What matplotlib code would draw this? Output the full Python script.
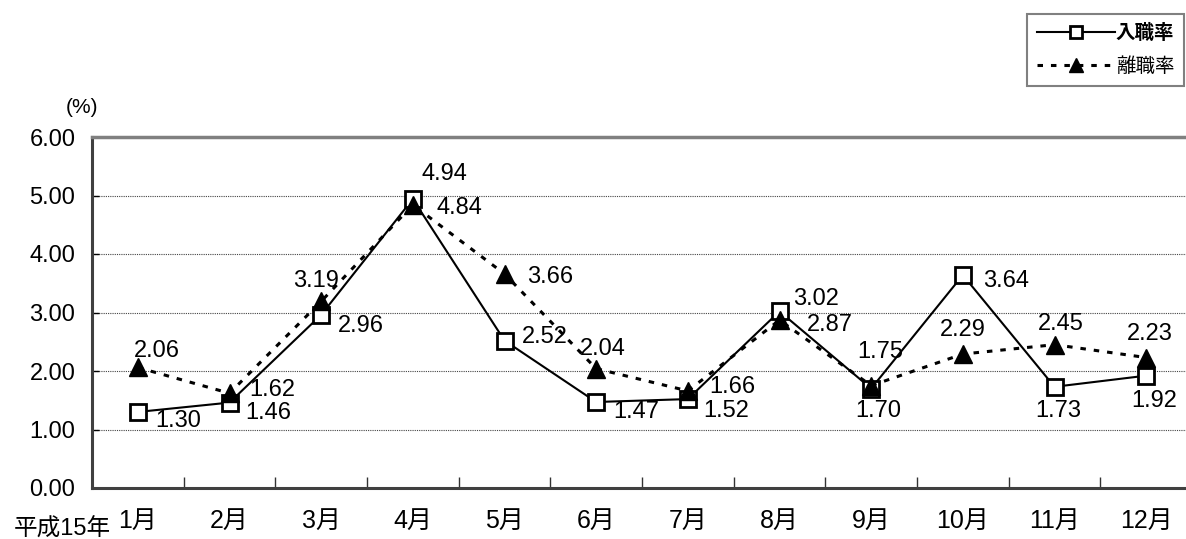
import numpy as np
import matplotlib
matplotlib.use('Agg')
import matplotlib.pyplot as plt

plt.rcParams['font.family'] = ['Liberation Sans', 'Noto Sans CJK JP', 'DejaVu Sans']

months = ['1月', '2月', '3月', '4月', '5月', '6月', '7月', '8月', '9月', '10月', '11月', '12月']
hire_rate = [1.30, 1.46, 2.96, 4.94, 2.52, 1.47, 1.52, 3.02, 1.70, 3.64, 1.73, 1.92]
sep_rate = [2.06, 1.62, 3.19, 4.84, 3.66, 2.04, 1.66, 2.87, 1.75, 2.29, 2.45, 2.23]
yticks = [0, 1, 2, 3, 4, 5, 6]

# label offsets (pixels, x right / y up)
hire_off = [(40, -9), (39, -10), (40, -11), (32, 25), (40, 4), (40, -10),
            (38, -12), (37, 12), (7, -22), (43, -6), (4, -24), (8, -25)]
sep_off = [(19, 16), (43, 3), (-5, 20), (47, -3), (46, -3), (7, 20),
           (44, 4), (50, -5), (9, 34), (0, 24), (6, 21), (4, 24)]

fs = 17

fig = plt.figure(figsize=(11.86, 5.39), dpi=100)
ax = fig.add_axes([92 / 1186, 1 - 488 / 539, 1100 / 1186, 351 / 539])

x = np.arange(len(months))
l1, = ax.plot(x, hire_rate, color='black', lw=1.5, marker='s', ms=11,
              mfc='white', mec='black', mew=2, zorder=3)
l2, = ax.plot(x, sep_rate, color='black', lw=2.2, linestyle=(0, (1.8, 2.6)),
              marker='^', ms=13, mfc='black', mec='black', zorder=4)

for i in range(len(months)):
    ax.annotate('%.2f' % hire_rate[i], (x[i], hire_rate[i]), xytext=hire_off[i],
                textcoords='offset pixels', ha='center', va='center', fontsize=fs, zorder=5)
    ax.annotate('%.2f' % sep_rate[i], (x[i], sep_rate[i]), xytext=sep_off[i],
                textcoords='offset pixels', ha='center', va='center', fontsize=fs, zorder=5)

ax.set_xlim(-0.5, len(months) - 0.5)
ax.set_ylim(0, 6)
ax.set_yticks(yticks)
ax.set_yticklabels(['%.2f' % v for v in yticks], fontsize=fs)
ax.set_xticks(x)
ax.set_xticklabels(months, fontsize=18)
ax.set_xticks(np.arange(0.5, len(months) - 0.5, 1), minor=True)
ax.tick_params(axis='x', which='major', length=0, pad=15)
ax.tick_params(axis='x', which='minor', direction='in', length=8, width=1, color='#333333')
ax.tick_params(axis='y', direction='in', length=5, width=1, pad=12)

for v in yticks[1:-1]:
    ax.axhline(v, color='#444444', lw=0.8, linestyle=(0, (1, 1)), zorder=1)

ax.spines['top'].set_color('#808080')
ax.spines['top'].set_linewidth(2.5)
ax.spines['left'].set_color('#404040')
ax.spines['left'].set_linewidth(2.2)
ax.spines['bottom'].set_color('#404040')
ax.spines['bottom'].set_linewidth(2.2)
ax.spines['right'].set_visible(False)

fig.text(82 / 1186, 1 - 108 / 539, '(%)', ha='center', va='center', fontsize=15)
fig.text(62 / 1186, 1 - 530 / 539, '平成15年', ha='center', va='center', fontsize=17)

leg = fig.legend([l1, l2], ['入職率', '離職率'], loc='upper right',
                 bbox_to_anchor=(1186 / 1186, 1 - 12 / 539), fontsize=14,
                 handlelength=4.0, markerscale=0.75, fancybox=False,
                 framealpha=1, edgecolor='#808080', borderpad=0.5, labelspacing=0.75,
                 handletextpad=0.05, borderaxespad=0.1)
leg.get_frame().set_linewidth(1.5)
leg.get_texts()[0].set_fontweight('bold')

plt.savefig('out.png', dpi=100)
